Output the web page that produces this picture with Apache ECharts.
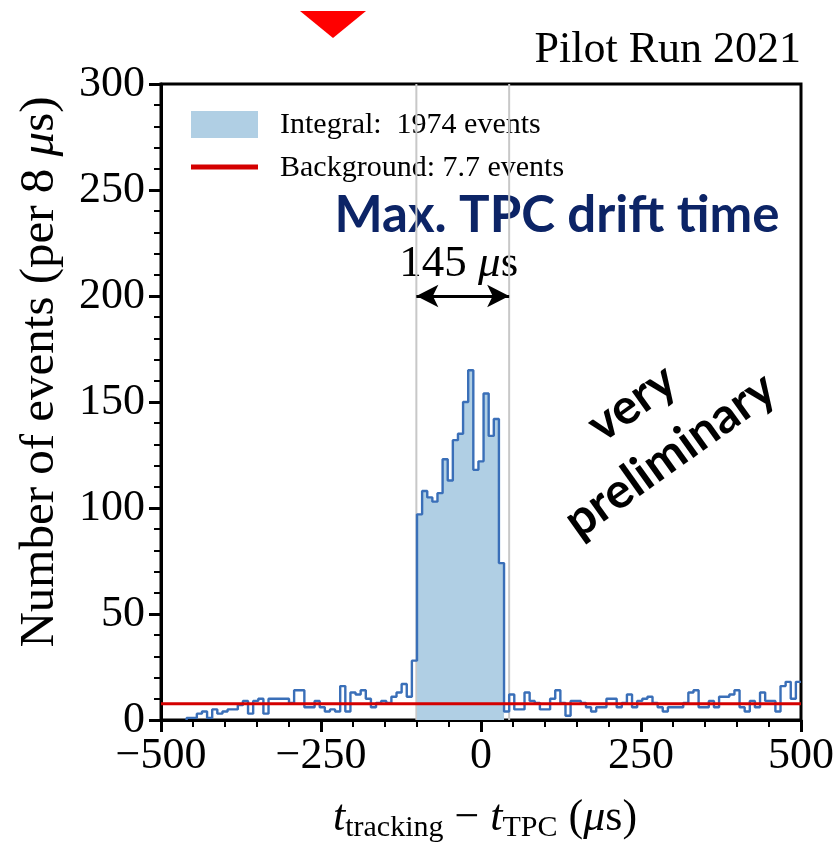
<!DOCTYPE html>
<html>
<head>
<meta charset="utf-8">
<script src="https://cdn.jsdelivr.net/npm/echarts@6/dist/echarts.min.js"></script>
<style>
  html, body { margin: 0; padding: 0; background: #fff; }
  #main { width: 838px; height: 842px; }
</style>
</head>
<body>
<div id="main"></div>
<script>
// Histogram binning (µs)
const binStart = -500;
const binWidth = 8;

// Events per 8 µs bin, from -500 µs to +500 µs (125 bins)
const counts = [
  0, 0, 0, 0, 0,      1, 1, 3, 4, 1,
  5, 3, 4, 5, 5,      7, 9, 3, 9, 10,
  3, 10, 10, 10, 10,  8, 14, 14, 6, 6,
  9, 6, 4, 5, 4,      16, 4, 13, 12, 14,
  10, 6, 8, 9, 8,     11, 13, 17, 11, 28,
  97, 108, 105, 103, 107,  123, 113, 132, 135, 150,
  165, 118, 122, 154, 134, 142, 74,
  4, 12, 5,
  5, 13, 9, 8, 5,     5, 10, 14, 8, 2,
  9, 9, 8, 6, 4,      6, 6, 10, 10, 6,
  8, 12, 6, 9, 10,    11, 8, 6, 4, 6,
  6, 6, 8, 13, 14,    6, 6, 9, 6, 11,
  11, 12, 14, 6, 4,   9, 6, 13, 9, 9,
  4, 16, 18, 10, 18
];

// Signal window (filled) and drift-time window (µs)
const signalFrom = -100;
const signalTo = 36;
const driftStart = -101;
const driftEnd = 44;
const driftLabel = '145';
const arrowLevel = 200;

// Background level and integral
const background = 7.7;
const integral = 1974;

// Axis ranges
const xRange = [-500, 500];
const xStep = 250;
const yRange = [0, 300];
const yStep = 50;

const SERIF = '"Liberation Serif", "DejaVu Serif", serif';
const SANS = 'Lato, "Open Sans", sans-serif';
const BLUE = '#3a6fb8';
const FILL = '#b0cfe4';
const RED = '#d40000';

// ---- derived series data ----
const edges = counts.map((_, i) => binStart + i * binWidth);
const firstBin = counts.findIndex(c => c > 0);
const outline = [[edges[firstBin], 0]];
for (let i = firstBin; i < counts.length; i++) outline.push([edges[i], counts[i]]);
outline.push([binStart + counts.length * binWidth, counts[counts.length - 1]]);

const fillData = [];
let lastSignal = 0;
for (let i = 0; i < counts.length; i++) {
  if (edges[i] >= signalFrom && edges[i] < signalTo) {
    fillData.push([edges[i], counts[i]]);
    lastSignal = counts[i];
  }
}
fillData.push([signalTo, lastSignal]);

const chart = echarts.init(document.getElementById('main'), null, { renderer: 'canvas' });

const minusFmt = v => String(v).replace('-', '\u2212');

const axisCommon = {
  type: 'value',
  axisLine: { show: true, onZero: false, lineStyle: { color: '#000', width: 3 } },
  axisTick: { show: true, length: 12, lineStyle: { color: '#000', width: 3 } },
  minorTick: { show: true, splitNumber: 5, length: 7, lineStyle: { color: '#000', width: 2 } },
  splitLine: { show: false },
  minorSplitLine: { show: false },
  axisLabel: {
    fontFamily: SERIF, fontSize: 44, color: '#000', margin: 16,
    showMinLabel: true, showMaxLabel: true, formatter: minusFmt
  }
};

chart.setOption({
  animation: false,
  backgroundColor: '#fff',
  grid: {
    left: 161, right: 37, top: 84, bottom: 122,
    show: true, borderColor: '#000', borderWidth: 3, backgroundColor: 'transparent'
  },
  xAxis: Object.assign({}, axisCommon, {
    min: xRange[0], max: xRange[1], interval: xStep,
    axisLabel: Object.assign({}, axisCommon.axisLabel, { margin: 14 })
  }),
  yAxis: Object.assign({}, axisCommon, {
    min: yRange[0], max: yRange[1], interval: yStep
  }),
  series: [
    {
      // drift-time window edges
      type: 'line', silent: true, symbol: 'none', z: 1,
      lineStyle: { color: '#c8c8c8', width: 2 },
      data: [[driftStart, yRange[0]], [driftStart, yRange[1]], null, [driftEnd, yRange[1]], [driftEnd, yRange[0]]],
      connectNulls: false
    },
    {
      // integrated signal region
      type: 'line', step: 'end', symbol: 'none', silent: true, z: 2,
      lineStyle: { width: 0 },
      areaStyle: { color: FILL, opacity: 1 },
      data: fillData
    },
    {
      // histogram outline
      type: 'line', step: 'end', symbol: 'none', silent: true, z: 3,
      lineStyle: { color: BLUE, width: 2.4 },
      data: outline
    },
    {
      // flat background estimate
      type: 'line', symbol: 'none', silent: true, z: 4,
      lineStyle: { color: RED, width: 3 },
      data: [[xRange[0], background], [xRange[1], background]]
    },
    {
      // drift-time arrow
      type: 'line', symbol: 'none', silent: true, z: 5, data: [],
      markLine: {
        silent: true, animation: false,
        symbol: ['arrow', 'arrow'], symbolSize: [17, 22],
        label: { show: false },
        lineStyle: { color: '#000', width: 3, type: 'solid' },
        data: [[{ coord: [driftStart, arrowLevel] }, { coord: [driftEnd, arrowLevel] }]]
      }
    }
  ]
});

// ---- text runs measured so mixed styles sit side by side ----
const ctx = document.createElement('canvas').getContext('2d');
function fontStr(p) {
  return (p.italic ? 'italic ' : '') + (p.bold ? 'bold ' : '') + p.size + 'px ' + (p.family || SERIF);
}
function run(pieces, x0, y0, align) {
  let total = 0;
  const widths = pieces.map(p => { ctx.font = fontStr(p); const w = ctx.measureText(p.text).width; total += w; return w; });
  let x = align === 'center' ? x0 - total / 2 : (align === 'right' ? x0 - total : x0);
  return pieces.map((p, i) => {
    const el = {
      type: 'text', x: x, y: y0 + (p.dy || 0), silent: true,
      style: {
        text: p.text, fill: p.color || '#000',
        fontSize: p.size, fontFamily: p.family || SERIF,
        fontStyle: p.italic ? 'italic' : 'normal', fontWeight: p.bold ? 'bold' : 'normal',
        align: 'left', verticalAlign: 'middle'
      }
    };
    x += widths[i];
    return el;
  });
}

const arrowMid = chart.convertToPixel({ gridIndex: 0 }, [(driftStart + driftEnd) / 2, arrowLevel]);

const graphics = [];

// marker triangle above the frame
graphics.push({
  type: 'polygon', silent: true,
  shape: { points: [[300, 11], [366, 11], [333, 38]] },
  style: { fill: '#ff0000' }
});

// run label
graphics.push(...run([{ text: 'Pilot Run 2021', size: 44 }], 801, 50, 'right'));

// legend
graphics.push({ type: 'rect', silent: true, shape: { x: 191, y: 111, width: 67, height: 27 }, style: { fill: FILL } });
graphics.push({ type: 'line', silent: true, shape: { x1: 191, y1: 167, x2: 258, y2: 167 }, style: { stroke: RED, lineWidth: 5 } });
graphics.push(...run([{ text: 'Integral:  ' + integral + ' events', size: 30 }], 280, 125, 'left'));
graphics.push(...run([{ text: 'Background: ' + background + ' events', size: 30 }], 280, 168, 'left'));

// drift-time annotation
graphics.push(...run([
  { text: 'Max. TPC drift time', size: 51, bold: true, family: SANS, color: '#0c2466' }
], 557, 216, 'center'));
graphics.push(...run([
  { text: driftLabel + ' ', size: 45 },
  { text: '\u03bc', size: 45, italic: true },
  { text: 's', size: 45 }
], arrowMid[0] - 4, 264, 'center'));

// status stamp
graphics.push({
  type: 'group', x: 632, y: 403, rotation: 0.62, silent: true,
  children: run([{ text: 'very', size: 49, bold: true, family: SANS }], 0, 0, 'center')
});
graphics.push({
  type: 'group', x: 670, y: 455, rotation: 0.62, silent: true,
  children: run([{ text: 'preliminary', size: 49, bold: true, family: SANS }], 0, 0, 'center')
});

// axis titles
graphics.push(...run([
  { text: 't', size: 44, italic: true },
  { text: 'tracking', size: 30, dy: 10 },
  { text: ' \u2212 ', size: 44 },
  { text: 't', size: 44, italic: true },
  { text: 'TPC', size: 30, dy: 10 },
  { text: ' (', size: 44 },
  { text: '\u03bc', size: 44, italic: true },
  { text: 's)', size: 44 }
], 485, 818, 'center'));

graphics.push({
  type: 'group', x: 40, y: 372, rotation: Math.PI / 2, silent: true,
  children: run([
    { text: 'Number of events (per 8 ', size: 49 },
    { text: '\u03bc', size: 49, italic: true },
    { text: 's)', size: 49 }
  ], 0, 0, 'center')
});

chart.setOption({ graphic: graphics });
</script>
</body>
</html>
